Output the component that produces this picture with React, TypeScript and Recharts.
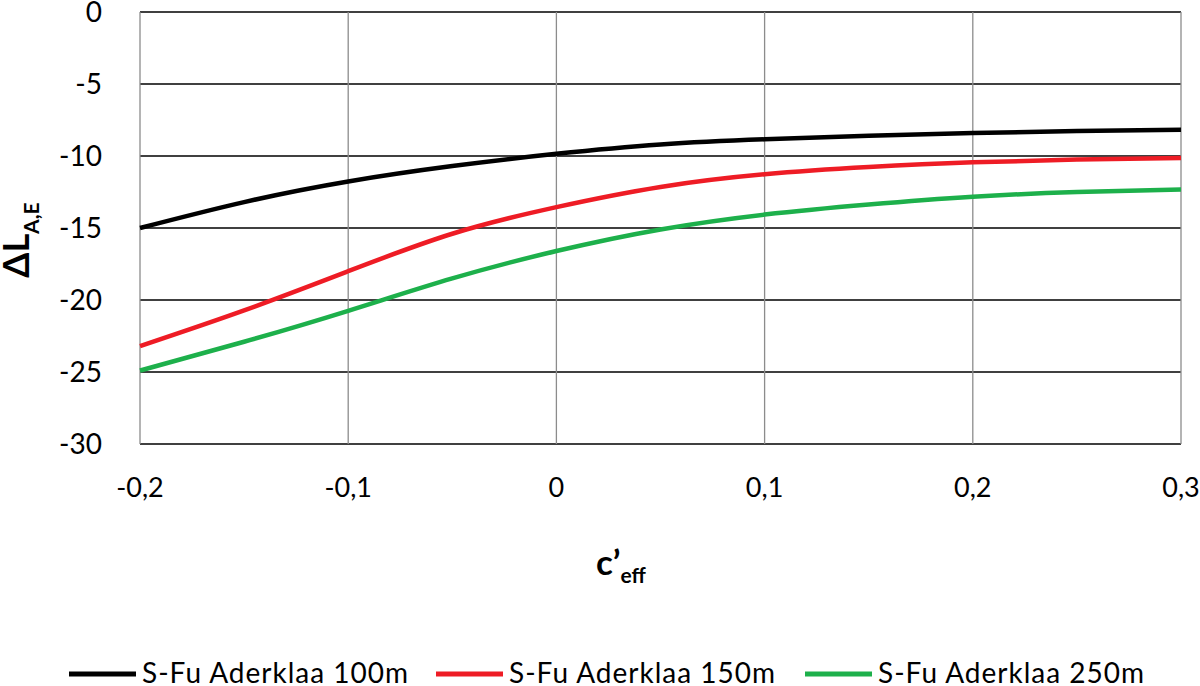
import { LineChart, Line, XAxis, YAxis, CartesianGrid } from "recharts";

const cEff = [-0.2, -0.15, -0.1, -0.05, 0, 0.05, 0.1, 0.15, 0.2, 0.25, 0.3];
const sFu100 = [-15.0, -13.2, -11.77, -10.7, -9.85, -9.2, -8.84, -8.6, -8.4, -8.27, -8.18];
const sFu150 = [-23.2, -20.72, -18.0, -15.4, -13.55, -12.15, -11.27, -10.77, -10.44, -10.25, -10.14];
const sFu250 = [-24.9, -22.9, -20.75, -18.5, -16.6, -15.1, -14.07, -13.37, -12.83, -12.5, -12.32];

const xTicks = [-0.2, -0.1, 0, 0.1, 0.2, 0.3];
const yTicks = [0, -5, -10, -15, -20, -25, -30];

const series = [
  { key: "s100", name: "S-Fu Aderklaa 100m", color: "#000000" },
  { key: "s150", name: "S-Fu Aderklaa 150m", color: "#ee1c25" },
  { key: "s250", name: "S-Fu Aderklaa 250m", color: "#1db04b" },
];

const data = cEff.map((c, i) => ({ c, s100: sFu100[i], s150: sFu150[i], s250: sFu250[i] }));

const FONT = "Lato, 'Open Sans', sans-serif";
const fmt = (v: number) => String(Math.round(v * 10) / 10).replace(".", ",");

// legend drawn by hand below the plot
function LegendRow() {
  const starts = [69, 436, 805];
  return (
    <svg width={1200} height={686} style={{ position: "absolute", left: 0, top: 0, pointerEvents: "none" }}>
      {series.map((s, i) => (
        <g key={s.key}>
          <line x1={starts[i]} x2={starts[i] + 67} y1={674} y2={674} stroke={s.color} strokeWidth={5} />
          <text x={starts[i] + 73} y={683} fontFamily={FONT} fontSize={28} letterSpacing={1} fill="#000">
            {s.name}
          </text>
        </g>
      ))}
    </svg>
  );
}

export default function App() {
  return (
    <div style={{ position: "fixed", left: 0, top: 0, width: 1200, height: 686, background: "#fff" }}>
      <LineChart width={1200} height={686} data={data} margin={{ top: 12, right: 19, bottom: 0, left: 0 }}>
        <CartesianGrid vertical={false} stroke="#000" strokeWidth={1.4} />
        <CartesianGrid horizontal={false} stroke="#8c8c8c" strokeWidth={1.3} />
        <XAxis
          dataKey="c"
          type="number"
          domain={[-0.2, 0.3]}
          ticks={xTicks}
          interval={0}
          tickFormatter={fmt}
          axisLine={false}
          tickLine={false}
          tickMargin={28}
          height={242}
          tick={{ fill: "#000", fontSize: 27, fontFamily: FONT }}
          label={{
            content: () => (
              <text x={596} y={575} fontFamily={FONT} fontWeight="bold" fontSize={35} fill="#000" textAnchor="start">
                c’
                <tspan fontSize={21} dy={8}>eff</tspan>
              </text>
            ),
          }}
        />
        <YAxis
          type="number"
          domain={[-30, 0]}
          ticks={yTicks}
          interval={0}
          tickFormatter={fmt}
          width={140}
          axisLine={false}
          tickLine={false}
          tickMargin={32}
          tick={{ fill: "#000", fontSize: 28, fontFamily: FONT }}
          label={{
            content: () => (
              <text
                transform="translate(29, 240) rotate(-90)"
                fontFamily={FONT}
                fontWeight="bold"
                fontSize={36}
                fill="#000"
                textAnchor="middle"
              >
                ΔL
                <tspan fontSize={21} dy={10}>A,E</tspan>
              </text>
            ),
          }}
        />
        {series.map((s) => (
          <Line
            key={s.key}
            type="natural"
            dataKey={s.key}
            name={s.name}
            stroke={s.color}
            strokeWidth={4.5}
            dot={false}
            activeDot={false}
            isAnimationActive={false}
          />
        ))}
      </LineChart>
      <LegendRow />
    </div>
  );
}
